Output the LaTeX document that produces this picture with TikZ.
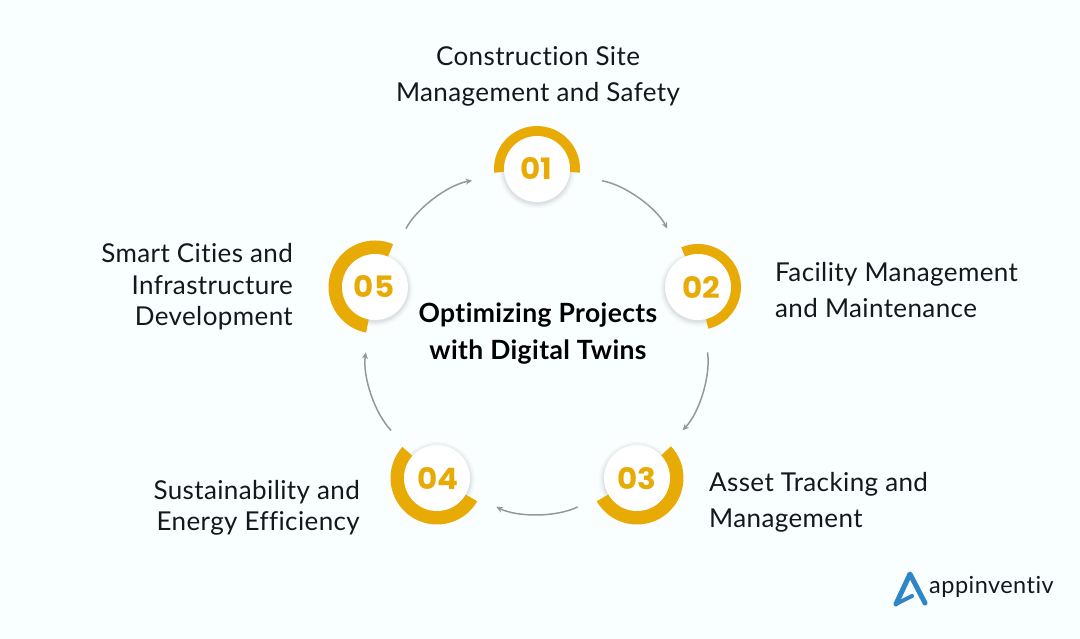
\documentclass[tikz,border=0pt]{standalone}
\usepackage{fontspec}
\setmainfont{Lato}[LetterSpace=1.5,Ligatures={NoCommon,NoRare,NoContextual},Kerning=On]
\newfontfamily\numfont{Poppins}[FakeStretch=1.05]
\newfontfamily\logofont{Lato}[LetterSpace=2,Ligatures={NoCommon,NoContextual}]
\usetikzlibrary{arrows.meta}
\definecolor{bgc}{HTML}{F9FEFF}
\definecolor{gold}{HTML}{E8AB05}
\definecolor{blk}{HTML}{14181C}
\definecolor{arrowc}{HTML}{93989D}
\definecolor{logoblue}{HTML}{2F86C6}
\tikzset{
  x=1pt,y=-1pt,
  hub/.style={circle,minimum size=132pt,inner sep=0pt,outer sep=0pt},
  lbl/.style={font=\fontsize{26}{36}\selectfont,text=blk,inner sep=0pt,align=center},
  lbls/.style={font=\fontsize{26}{31.5}\selectfont,text=blk,inner sep=0pt},
  ttl/.style={font=\fontsize{26.5}{37}\selectfont\bfseries,text=black,inner sep=0pt,align=center},
  num/.style={font=\fontsize{29.5}{30}\selectfont\numfont\bfseries,text=gold,inner sep=0pt},
  link/.style={draw=arrowc,line width=1.5pt,looseness=.75,-{Stealth[length=6.5pt,width=6pt]}},
}
\newcommand{\badge}[9]{% name, cx, cy, start, end, outer r, number, numx, numy
  \fill[white,opacity=.45] (#2,#3) circle[radius=54];
  \foreach \s/\o in {9/.008,8/.01,7/.012,6/.014,5/.016,4/.018,3/.02,2/.025,1/.03}{
    \fill[black!70!cyan,opacity=\o] (#2,#3+1.5) circle[radius=33+\s*.6];
  }
  \fill[gold] ({#2+#6*cos(#4)},{#3-#6*sin(#4)}) arc[start angle=-#4,end angle=-#5,radius=#6]
     -- ({#2+32*cos(#5)},{#3-32*sin(#5)}) arc[start angle=-#5,end angle=-#4,radius=32] -- cycle;
  \fill[white] (#2,#3) circle[radius=33];
  \node[num] at (#8,#9) {#7};
  \node[hub] (#1) at (#2,#3) {};
}
\begin{document}
\begin{tikzpicture}
\fill[bgc] (0,0) rectangle (1080,639);
\useasboundingbox (0,0) rectangle (1080,639);
\badge{n1}{537}{169}{185}{-5}{43}{01}{536}{169}
\badge{n2}{698}{287}{113}{-76}{43}{02}{701}{287}
\badge{n3}{637}{478}{43}{-150}{46.5}{03}{637}{479}
\badge{n4}{437}{478}{138}{330}{46.5}{04}{438}{479}
\badge{n5}{375}{287}{67}{259}{46.5}{05}{374}{287}
\draw[link] (n1) to[bend left=26] (n2);
\draw[link] (n2) to[bend left=26] (n3);
\draw[link] (n3) to[bend left=26] (n4);
\draw[link] (n4) to[bend left=26] (n5);
\draw[link] (n5) to[bend left=26] (n1);
\node[lbl] (t1) at (538,76) {Construction Site\\Management and Safety};
\node[lbl,align=left,anchor=west] (t2) at (775,290) {Facility Management\\and Maintenance};
\node[lbl,align=left,anchor=west] (t3) at (709,502) {Asset Tracking and\\Management};
\node[lbls,align=right,anchor=east] (t4) at (360,508) {Sustainability and\\Energy Efficiency};
\node[lbls,align=right,anchor=east] (t5) at (293,287) {Smart Cities and\\Infrastructure\\Development};
\node[ttl] (title) at (538,334) {Optimizing Projects\\with Digital Twins};
\draw[logoblue,line width=5pt,line join=round,line cap=round] (896,604) -- (910,574) -- (925,603);
\draw[logoblue,line width=4pt,line cap=round] (896,604) -- (912,596);
\node[font=\fontsize{23.5}{24}\selectfont\logofont,text=blk,inner sep=0pt,anchor=west] (logo) at (929,587) {appinventiv};
\end{tikzpicture}
\end{document}
